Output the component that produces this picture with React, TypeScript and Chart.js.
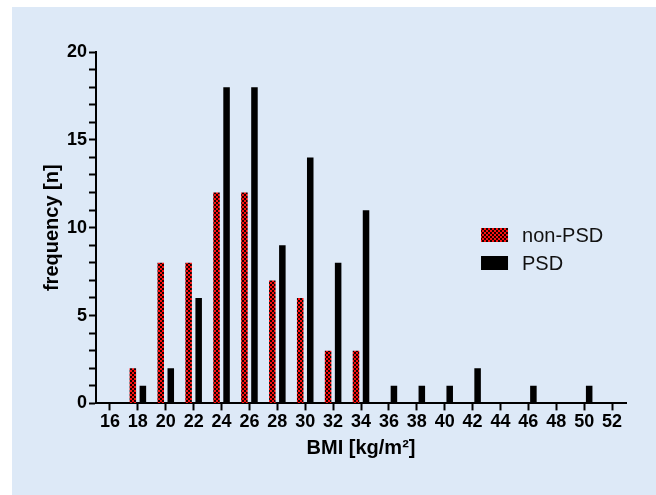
import React, { useEffect, useRef } from "react";
import { Chart, registerables } from "chart.js";

Chart.register(...registerables);

const bmiLabels = ["16", "18", "20", "22", "24", "26", "28", "30", "32", "34", "36", "38", "40", "42", "44", "46", "48", "50", "52"];
const nonPsd = [null, 2, 8, 8, 12, 12, 7, 6, 3, 3, null, null, null, null, null, null, null, null, null];
const psd = [null, 1, 2, 6, 18, 18, 9, 14, 8, 11, 1, 1, 1, 2, null, 1, null, 1, null];
const seriesNames = ["non-PSD", "PSD"];
const yTitle = "frequency [n]";
const xTitle = "BMI [kg/m²]";

const FONT = "'Liberation Sans', Arial, Helvetica, sans-serif";

function makeChecker(): CanvasPattern | string {
  const c = document.createElement("canvas");
  c.width = 4;
  c.height = 4;
  const ctx = c.getContext("2d");
  if (!ctx) return "#d00000";
  ctx.fillStyle = "#1a0000";
  ctx.fillRect(0, 0, 4, 4);
  ctx.fillStyle = "#ff1010";
  ctx.fillRect(0, 0, 2, 2);
  ctx.fillRect(2, 2, 2, 2);
  const p = ctx.createPattern(c, "repeat");
  return p || "#d00000";
}

export default function App() {
  const ref = useRef<HTMLCanvasElement>(null);

  useEffect(() => {
    if (!ref.current) return;
    const checker = makeChecker();
    const colors = [checker, "#000000"];

    const legendPlugin = {
      id: "insideLegend",
      afterDraw(chart: any) {
        const { ctx, chartArea } = chart;
        const bx = chartArea.left + 385;
        const rows = [chartArea.top + 176, chartArea.top + 204];
        ctx.save();
        seriesNames.forEach((name, i) => {
          ctx.fillStyle = colors[i];
          ctx.fillRect(bx, rows[i], 27, 14);
          ctx.fillStyle = "#111";
          ctx.font = `20px ${FONT}`;
          ctx.textBaseline = "middle";
          ctx.textAlign = "left";
          ctx.fillText(name, bx + 41, rows[i] + 8);
        });
        ctx.restore();
      },
    };

    const chart = new Chart(ref.current, {
      type: "bar",
      data: {
        labels: bmiLabels,
        datasets: [
          {
            label: seriesNames[0],
            data: nonPsd,
            backgroundColor: checker as any,
            borderWidth: 0,
            categoryPercentage: 0.72,
            barPercentage: 0.65,
          },
          {
            label: seriesNames[1],
            data: psd,
            backgroundColor: "#000000",
            borderWidth: 0,
            categoryPercentage: 0.72,
            barPercentage: 0.65,
          },
        ],
      },
      options: {
        animation: false,
        responsive: false,
        maintainAspectRatio: false,
        layout: { padding: { left: 40, right: 30, top: 52, bottom: 35 } },
        plugins: {
          legend: { display: false },
          tooltip: { enabled: false },
        },
        scales: {
          x: {
            type: "category",
            offset: true,
            grid: {
              offset: false,
              drawOnChartArea: false,
              drawTicks: true,
              tickLength: 7,
              tickWidth: 2,
              tickColor: "#000",
            },
            border: { display: true, color: "#000", width: 2 },
            ticks: {
              color: "#000",
              padding: 1,
              maxRotation: 0,
              autoSkip: false,
              font: { family: FONT, size: 18, weight: "bold" },
            },
            title: {
              display: true,
              text: xTitle,
              color: "#000",
              padding: { top: 2, bottom: 0 },
              font: { family: FONT, size: 20, weight: "bold" },
            },
          },
          y: {
            min: 0,
            max: 20,
            grid: {
              drawOnChartArea: false,
              drawTicks: true,
              tickLength: 7,
              tickWidth: 2,
              tickColor: "#000",
            },
            border: { display: true, color: "#000", width: 2 },
            ticks: {
              stepSize: 1,
              maxTicksLimit: 25,
              autoSkip: false,
              color: "#000",
              padding: 2,
              font: { family: FONT, size: 18, weight: "bold" },
              callback: (v: any) => (Number(v) % 5 === 0 ? String(v) : ""),
            },
            title: {
              display: true,
              text: yTitle,
              color: "#000",
              padding: { top: 0, bottom: 1 },
              font: { family: FONT, size: 20, weight: "bold" },
            },
          },
        },
      },
      plugins: [legendPlugin],
    });
    return () => chart.destroy();
  }, []);

  return (
    <div style={{ position: "absolute", left: 0, top: 0, width: 656, height: 495, background: "#ffffff" }}>
      <div style={{ position: "absolute", left: 12, top: 7, right: 0, bottom: 0, background: "#dde9f7" }} />
      <canvas ref={ref} width={656} height={495} style={{ position: "absolute", left: 0, top: 0, width: 656, height: 495 }} />
    </div>
  );
}
